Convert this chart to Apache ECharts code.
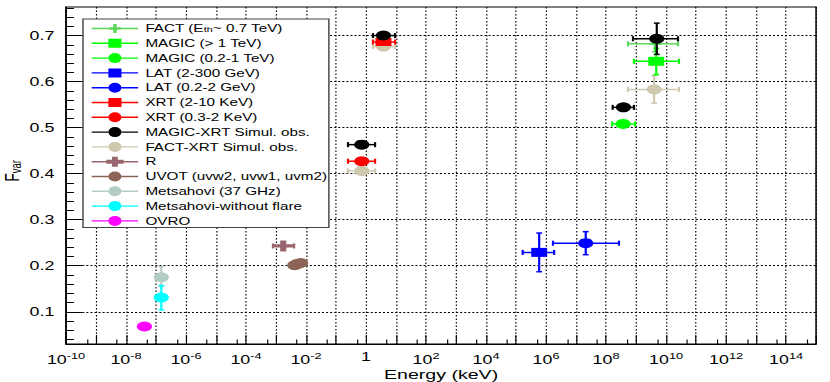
<!DOCTYPE html>
<html><head><meta charset="utf-8">
<script src="https://cdn.jsdelivr.net/npm/echarts@6/dist/echarts.min.js"></script>
<style>
html,body{margin:0;padding:0;background:#fff;overflow:hidden}
#wrap{width:830px;height:382px;overflow:hidden;position:relative}
#chart{width:572px;height:382px;transform:scaleX(1.451049);transform-origin:0 0}
</style></head><body><div id="wrap"><div id="chart"></div></div>
<script>
// Each row: [energy (keV), energy low, energy high, Fvar, Fvar low, Fvar high]
const FACT         = [[4.3e9, 5.4e8, 2.5e10, 0.682, 0.665, 0.700]];
const MAGIC_HE     = [[4.7e9, 8.5e8, 2.7e10, 0.644, 0.615, 0.672]];
const MAGIC_LE     = [[3.7e8, 1.6e8, 9.3e8, 0.508, 0.502, 0.514]];
const LAT_HE       = [[5.9e5, 1.66e5, 1.86e6, 0.229, 0.187, 0.271]];
const LAT_LE       = [[2.1e7, 1.7e6, 2.7e8, 0.249, 0.224, 0.274]];
const XRT_HE       = [[3.8, 1.7, 9.3, 0.686, 0.682, 0.690]];
const XRT_LE       = [[0.72, 0.25, 2.0, 0.427, 0.423, 0.431]];
const MAGIC_XRT    = [[3.8, 1.7, 9.3, 0.700, 0.696, 0.704],
                      [0.72, 0.25, 2.0, 0.463, 0.459, 0.467],
                      [4.9e9, 7.9e8, 2.5e10, 0.693, 0.659, 0.727],
                      [3.8e8, 1.66e8, 8.5e8, 0.544, 0.538, 0.550]];
const FACT_XRT     = [[3.8, 1.7, 9.3, 0.676, 0.672, 0.680],
                      [0.72, 0.25, 2.0, 0.406, 0.402, 0.410],
                      [4.0e9, 5.4e8, 2.7e10, 0.583, 0.553, 0.613]];
const R_BAND       = [[1.74e-3, 7.9e-4, 4.0e-3, 0.243, 0.240, 0.246]];
const UVOT         = [[4.2e-3, 4.2e-3, 4.2e-3, 0.201, 0.201, 0.201],
                      [5.2e-3, 5.2e-3, 5.2e-3, 0.204, 0.204, 0.204],
                      [6.6e-3, 6.6e-3, 6.6e-3, 0.206, 0.206, 0.206]];
const METSAHOVI    = [[1.5e-7, 1.5e-7, 1.5e-7, 0.175, 0.155, 0.198]];
const METSAHOVI_NF = [[1.5e-7, 1.5e-7, 1.5e-7, 0.131, 0.104, 0.157]];
const OVRO         = [[4.1e-8, 4.1e-8, 4.1e-8, 0.068, 0.068, 0.068]];

// Axis ticks
const X_MIN_EXP = -10, X_MAX_EXP = 15;
const X_MINOR = [-9.301,-8.301,-7.301,-6.301,-5.301,-4.301,-3.301,-2.301,-1.301,-0.301,0.699,1.699,2.699,3.699,4.699,5.699,6.699,7.699,8.699,9.699,10.699,11.699,12.699,13.699,14.699];
const Y_TICKS = [0.1, 0.2, 0.3, 0.4, 0.5, 0.6, 0.7];
const Y_MINOR = [0.04,0.06,0.08,0.12,0.14,0.16,0.18,0.22,0.24,0.26,0.28,0.32,0.34,0.36,0.38,0.42,0.44,0.46,0.48,0.52,0.54,0.56,0.58,0.62,0.64,0.66,0.68,0.72,0.74,0.76];
const Y_MIN = 0.03, Y_MAX = 0.762;

const FONT = 'Liberation Sans, Arial, Helvetica, sans-serif';

const SYM_PLUS_S = 'path://M3,0H5V3H8V5H5V8H3V5H0V3H3Z';
const SYM_PLUS_R = 'path://M3.5,0H6.5V3.5H10V6.5H6.5V10H3.5V6.5H0V3.5H3.5Z';

const ICON_CIRCLE = 'path://M0,4.3H11.5V5.7H0Z M20.5,4.3H32V5.7H20.5Z M11.5,5A4.5,5 0 1,1 20.5,5A4.5,5 0 1,1 11.5,5Z';
const ICON_SQUARE = 'path://M0,4.3H11.5V5.7H0Z M20.5,4.3H32V5.7H20.5Z M11.5,0.5H20.5V9.5H11.5Z';
const ICON_PLUS_S = 'path://M0,4.3H12V5.7H0Z M20,4.3H32V5.7H20Z M14.8,0.5H17.2V3.8H20V6.2H17.2V9.5H14.8V6.2H12V3.8H14.8Z';
const ICON_PLUS_R = 'path://M0,4.3H10V5.7H0Z M22,4.3H32V5.7H22Z M14,0H18V3H22V7H18V10H14V7H10V3H14Z';

const GRAPHS = [
  {name:'FACT-XRT Simul. obs.', rows:FACT_XRT, color:'#cdc8ae', symbol:'circle', size:[10.5,10], icon:ICON_CIRCLE},
  {name:'Metsahovi (37 GHz)', rows:METSAHOVI, color:'#b4cdc3', symbol:'circle', size:[10.5,10], icon:ICON_CIRCLE},
  {name:'Metsahovi-without flare', rows:METSAHOVI_NF, color:'#00ffff', symbol:'circle', size:[10.5,10], icon:ICON_CIRCLE},
  {name:'OVRO', rows:OVRO, color:'#ff00ff', symbol:'circle', size:[10.5,10], icon:ICON_CIRCLE},
  {name:'R', rows:R_BAND, color:'#996670', symbol:SYM_PLUS_R, size:[14,11], icon:ICON_PLUS_R},
  {name:'UVOT (uvw2, uvw1, uvm2)', rows:UVOT, color:'#8c6455', symbol:'circle', size:[10.5,10], icon:ICON_CIRCLE},
  {name:'LAT (2-300 GeV)', rows:LAT_HE, color:'#0000ff', symbol:'rect', size:[11,9], icon:ICON_SQUARE},
  {name:'LAT (0.2-2 GeV)', rows:LAT_LE, color:'#0000ff', symbol:'circle', size:[10.5,10], icon:ICON_CIRCLE},
  {name:'XRT (0.3-2 KeV)', rows:XRT_LE, color:'#ff0000', symbol:'circle', size:[10.5,10], icon:ICON_CIRCLE},
  {name:'XRT (2-10 KeV)', rows:XRT_HE, color:'#ff0000', symbol:'rect', size:[11,8], icon:ICON_SQUARE},
  {name:'MAGIC (0.2-1 TeV)', rows:MAGIC_LE, color:'#00ff00', symbol:'circle', size:[10.5,10], icon:ICON_CIRCLE},
  {name:'FACT (Eth~ 0.7 TeV)', rows:FACT, color:'#5ad85a', symbol:SYM_PLUS_S, size:[8,8], icon:ICON_PLUS_S},
  {name:'MAGIC (> 1 TeV)', rows:MAGIC_HE, color:'#00ff00', symbol:'rect', size:[11,9], icon:ICON_SQUARE},
  {name:'MAGIC-XRT Simul. obs.', rows:MAGIC_XRT, color:'#000000', symbol:'circle', size:[10.5,10], icon:ICON_CIRCLE}
];
const LEGEND_ORDER = ['FACT (Eth~ 0.7 TeV)','MAGIC (> 1 TeV)','MAGIC (0.2-1 TeV)','LAT (2-300 GeV)','LAT (0.2-2 GeV)','XRT (2-10 KeV)','XRT (0.3-2 KeV)','MAGIC-XRT Simul. obs.','FACT-XRT Simul. obs.','R','UVOT (uvw2, uvw1, uvm2)','Metsahovi (37 GHz)','Metsahovi-without flare','OVRO'];

function renderErr(params, api) {
  const x = api.value(0), y = api.value(1);
  const c = api.coord([x, y]);
  const xl = api.coord([api.value(2), y])[0], xh = api.coord([api.value(3), y])[0];
  const yl = api.coord([x, api.value(4)])[1], yh = api.coord([x, api.value(5)])[1];
  const color = api.visual('color');
  const st = {stroke: color, lineWidth: 1.5};
  const kids = [];
  if (xh - xl > 1) {
    kids.push({type:'line', shape:{x1:xl, y1:c[1], x2:xh, y2:c[1]}, style:st});
    kids.push({type:'line', shape:{x1:xl, y1:c[1]-2.5, x2:xl, y2:c[1]+2.5}, style:st});
    kids.push({type:'line', shape:{x1:xh, y1:c[1]-2.5, x2:xh, y2:c[1]+2.5}, style:st});
  }
  if (yl - yh > 1) {
    kids.push({type:'line', shape:{x1:c[0], y1:yl, x2:c[0], y2:yh}, style:st});
    kids.push({type:'line', shape:{x1:c[0]-2, y1:yl, x2:c[0]+2, y2:yl}, style:st});
    kids.push({type:'line', shape:{x1:c[0]-2, y1:yh, x2:c[0]+2, y2:yh}, style:st});
  }
  return {type:'group', children:kids};
}

const series = [];
GRAPHS.forEach((g, i) => {
  const pts = g.rows.map(r => [Math.log10(r[0]), r[3]]);
  const errs = g.rows.map(r => [Math.log10(r[0]), r[3], Math.log10(r[1]), Math.log10(r[2]), r[4], r[5]]);
  series.push({
    type:'scatter', name:g.name, data:pts, symbol:g.symbol, symbolSize:g.size,
    itemStyle:{color:g.color, opacity:1}, z: 3 + i*2, silent:true
  });
  series.push({
    type:'custom', name:g.name, data:errs, renderItem:renderErr,
    encode:{x:[0,2,3], y:[1,4,5]}, itemStyle:{color:g.color}, z: 2 + i*2, silent:true
  });
});

const iconOf = {};
GRAPHS.forEach(g => { iconOf[g.name] = g.icon; });

const chart = echarts.init(document.getElementById('chart'), null, {renderer:'svg'});
chart.setOption({
  animation:false,
  backgroundColor:'#fff',
  grid:{left:45.5, right:9.6, top:7, bottom:38, containLabel:false, outerBoundsMode:'none',
        show:true, borderColor:'#000', borderWidth:1, backgroundColor:'transparent'},
  xAxis:[{
    type:'value', min:X_MIN_EXP, max:X_MAX_EXP, interval:1, position:'bottom',
    axisLine:{show:true, onZero:false, lineStyle:{color:'#000', width:1}},
    axisTick:{show:true, inside:true, length:9, lineStyle:{color:'#000', width:0.8}},
    axisLabel:{
      color:'#000', margin:7,
      formatter: v => (v % 2 !== 0) ? '' : (v === 0 ? '{b|1}' : '{b|10}{s|' + v + '}'),
      rich:{
        b:{fontFamily:FONT, fontSize:12.3, color:'#000'},
        s:{fontFamily:FONT, fontSize:8.8, color:'#000', padding:[0,0,8,0]}
      }
    },
    splitLine:{show:true, lineStyle:{color:'#000', width:0.8, type:[1.5,2]}},
    name:'Energy (keV)', nameLocation:'middle', nameGap:23.5, nameMoveOverlap:false,
    nameTextStyle:{fontFamily:FONT, fontSize:13.5, color:'#000', lineHeight:14}
  },{
    type:'value', min:X_MIN_EXP, max:X_MAX_EXP, position:'bottom',
    axisLine:{show:false, onZero:false}, axisLabel:{show:false}, splitLine:{show:false},
    axisTick:{show:true, inside:true, length:4.5, customValues:X_MINOR, lineStyle:{color:'#000', width:0.8}}
  }],
  yAxis:[{
    type:'value', min:Y_MIN, max:Y_MAX, position:'left',
    axisLine:{show:true, onZero:false, lineStyle:{color:'#000', width:1}},
    axisTick:{show:true, inside:true, length:11, customValues:Y_TICKS, lineStyle:{color:'#000', width:1}},
    axisLabel:{customValues:Y_TICKS, color:'#000', margin:8, fontFamily:FONT, fontSize:12.3, formatter: v => v.toFixed(1)},
    splitLine:{show:true, lineStyle:{color:'#000', width:1, type:[1.4,1.4]}},
    name:'{f|F}{v|var}', nameLocation:'middle', nameGap:29, nameRotate:90, nameMoveOverlap:false,
    nameTextStyle:{color:'#000', padding:[0,0,0,9], rich:{
      f:{fontFamily:FONT, fontSize:14, color:'#000', lineHeight:14},
      v:{fontFamily:FONT, fontSize:9.5, color:'#000', padding:[7,0,0,0]}
    }}
  },{
    type:'value', min:Y_MIN, max:Y_MAX, position:'left',
    axisLine:{show:false, onZero:false}, axisLabel:{show:false}, splitLine:{show:false},
    axisTick:{show:true, inside:true, length:5.5, customValues:Y_MINOR, lineStyle:{color:'#000', width:1}}
  }],
  legend:{
    orient:'vertical', left:57.2, top:19, padding:[4,1,1,6],
    itemWidth:32, itemHeight:10, itemGap:3.8,
    backgroundColor:'#fff', borderColor:'#444', borderWidth:1,
    selectedMode:false,
    data: LEGEND_ORDER.map(n => ({name:n, icon:iconOf[n]})),
    formatter: n => n.indexOf('FACT (Eth') === 0 ? '{t|FACT (E}{s|th}{t|~ 0.7 TeV)}' : '{t|' + n + '}',
    textStyle:{fontFamily:FONT, fontSize:10.5, color:'#000', lineHeight:10, rich:{
      t:{fontFamily:FONT, fontSize:10.5, color:'#000', lineHeight:10},
      s:{fontFamily:FONT, fontSize:7.5, color:'#000', lineHeight:10, padding:[2,0,0,0]}
    }}
  },
  series: series
});
</script></body></html>
